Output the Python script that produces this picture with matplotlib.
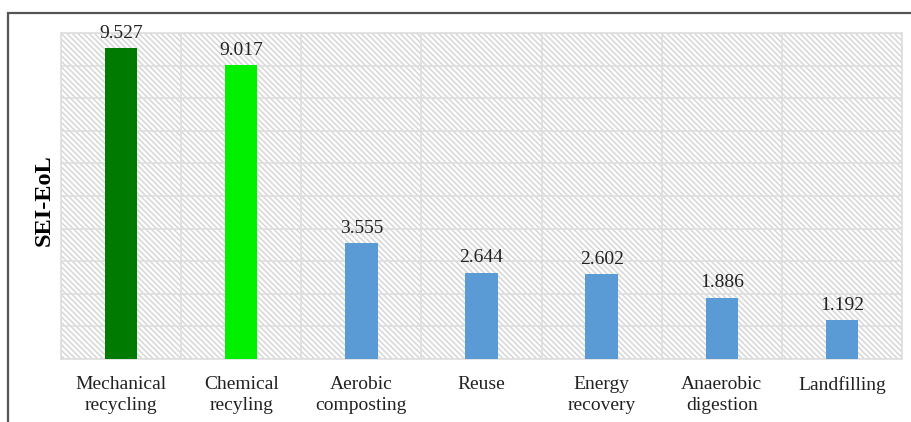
import matplotlib.pyplot as plt
from matplotlib.patches import Rectangle
import numpy as np

categories = ["Mechanical\nrecycling", "Chemical\nrecyling", "Aerobic\ncomposting",
              "Reuse", "Energy\nrecovery", "Anaerobic\ndigestion", "Landfilling"]
sei_eol = [9.527, 9.017, 3.555, 2.644, 2.602, 1.886, 1.192]
bar_colors = ["#007a00", "#00f000", "#5b9bd5", "#5b9bd5", "#5b9bd5", "#5b9bd5", "#5b9bd5"]

plt.rcParams['font.family'] = ['Liberation Serif', 'DejaVu Serif']
plt.rcParams['hatch.color'] = '#d6d6d6'
plt.rcParams['hatch.linewidth'] = 1.1

fig = plt.figure(figsize=(9.12, 4.22), dpi=100)
ax = fig.add_axes([61/912, 1 - 359/422, 841/912, 326/422])

x = np.arange(len(categories))
ax.patch.set_facecolor('white')
ax.patch.set_hatch('\\' * 6)
ax.patch.set_edgecolor('#d6d6d6')

bars = ax.bar(x, sei_eol, width=0.27, color=bar_colors, zorder=3)
for xi, v in zip(x, sei_eol):
    ax.text(xi, v + 0.2, f"{v:.3f}", ha='center', va='bottom', fontsize=14, color='#222222', zorder=4)

ax.set_xlim(-0.5, len(categories) - 0.5)
ax.set_ylim(0, 10)
ax.set_yticks(np.arange(0, 11, 1))
ax.set_xticks(np.arange(-0.5, len(categories), 1), minor=True)
ax.set_xticks(x)
ax.set_xticklabels(categories, fontsize=14, color='#222222', linespacing=1.3)
ax.set_yticklabels([])
ax.tick_params(axis='both', which='both', length=0)
ax.tick_params(axis='x', pad=12)
ax.grid(True, axis='y', color='#dedede', linewidth=1.2, zorder=1)
ax.grid(True, axis='x', which='minor', color='#dedede', linewidth=1.2, zorder=1)
ax.set_axisbelow(True)
for s in ax.spines.values():
    s.set_color('#dedede')
    s.set_linewidth(1.2)

fig.text(44/912, 1 - 200/422, "SEI-EoL", rotation=90, ha='center', va='center',
         fontsize=17.5, fontweight='bold')

# outer chart frame (runs past the right and bottom edges)
fig.add_artist(Rectangle((8/912, -0.2), 1.2, 1.2 - 13/422, transform=fig.transFigure,
                         fill=False, edgecolor='#555555', linewidth=1.6))

fig.savefig('out.png', dpi=100)
